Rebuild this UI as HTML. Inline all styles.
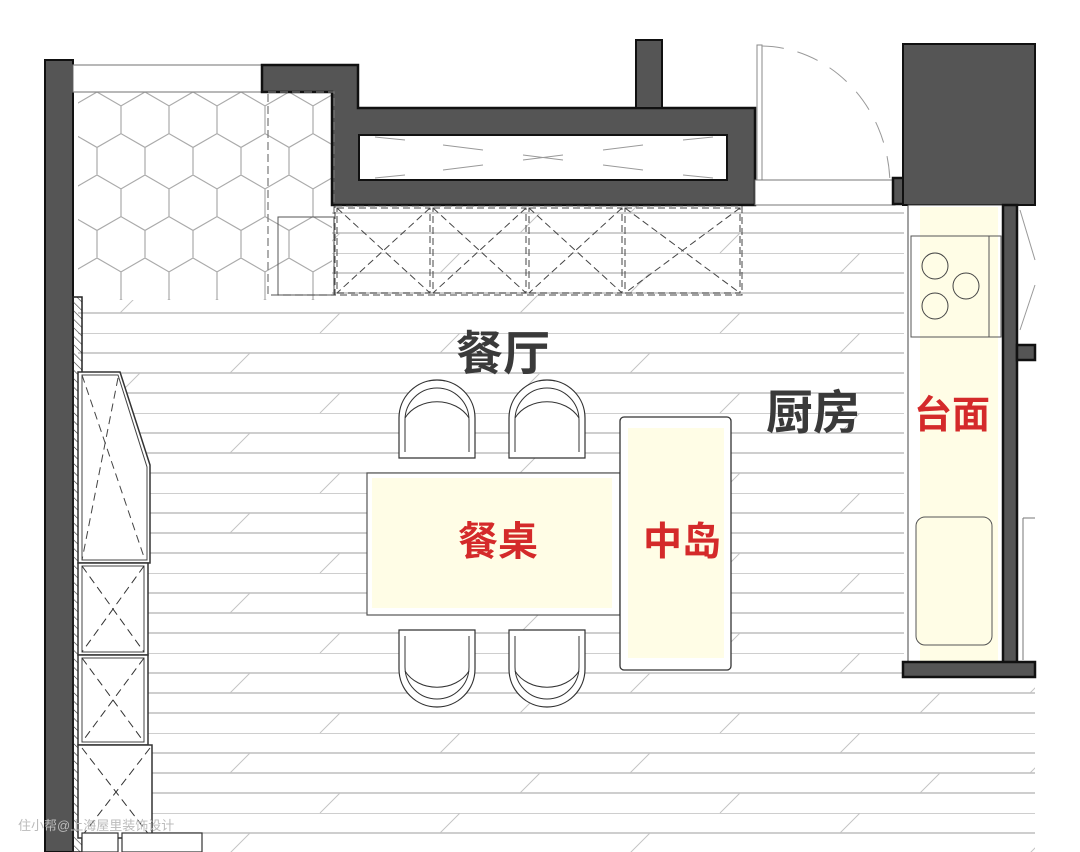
<!DOCTYPE html>
<html><head><meta charset="utf-8"><style>
html,body{margin:0;padding:0;background:#fff}
svg{display:block}
.t{font-family:"Liberation Sans","Noto Sans CJK SC",sans-serif;font-weight:bold}
</style></head><body>
<svg width="1080" height="852" viewBox="0 0 1080 852" xmlns="http://www.w3.org/2000/svg">
<defs>
<pattern id="floor" x="0" y="13" width="400" height="80" patternUnits="userSpaceOnUse">
<line x1="0" y1="0" x2="400" y2="0" stroke="#bdbdbd" stroke-width="1.4"/>
<line x1="0" y1="20" x2="400" y2="20" stroke="#bdbdbd" stroke-width="1.4"/>
<line x1="0" y1="40" x2="400" y2="40" stroke="#bdbdbd" stroke-width="1.4"/>
<line x1="0" y1="60" x2="400" y2="60" stroke="#bdbdbd" stroke-width="1.4"/>
<line x1="40" y1="20" x2="60" y2="0" stroke="#c4c4c4" stroke-width="1"/>
<line x1="230" y1="40" x2="250" y2="20" stroke="#c4c4c4" stroke-width="1"/>
<line x1="120" y1="60" x2="140" y2="40" stroke="#c4c4c4" stroke-width="1"/>
<line x1="320" y1="80" x2="340" y2="60" stroke="#c4c4c4" stroke-width="1"/>
</pattern>
<pattern id="hex" x="73" y="92" width="48" height="83" patternUnits="userSpaceOnUse">
<path d="M24,0 L48,13.9 L48,41.6 L24,55.4 L0,41.6 L0,13.9 Z M24,55.4 L24,83" fill="none" stroke="#aaa" stroke-width="1.2"/>
</pattern>
<pattern id="hatch" width="6" height="6" patternUnits="userSpaceOnUse" patternTransform="rotate(-45)">
<line x1="0" y1="0" x2="0" y2="6" stroke="#333" stroke-width="1.2"/>
</pattern>
</defs>

<rect x="78" y="205" width="826" height="647" fill="url(#floor)"/>
<rect x="904" y="677" width="131" height="175" fill="url(#floor)"/>
<rect x="78" y="92" width="254" height="208" fill="#fff"/>
<rect x="78" y="92" width="254" height="208" fill="url(#hex)"/>

<rect x="45" y="60" width="28" height="792" fill="#555" stroke="#111" stroke-width="2"/>
<rect x="73" y="65" width="189" height="27" fill="#fff" stroke="#888" stroke-width="1.2"/>
<path d="M262,65 H358 V108 H755 V205 H332 V92 H262 Z" fill="#555" stroke="#111" stroke-width="2.5"/>
<rect x="359" y="135" width="368" height="45" fill="#fff" stroke="#111" stroke-width="2"/>
<g stroke="#999" stroke-width="1">
<line x1="375" y1="137" x2="405" y2="140"/><line x1="375" y1="178" x2="405" y2="175"/>
<line x1="443" y1="145" x2="483" y2="150"/><line x1="443" y1="170" x2="483" y2="165"/>
<line x1="523" y1="155" x2="563" y2="160"/><line x1="523" y1="160" x2="563" y2="155"/>
<line x1="603" y1="150" x2="643" y2="145"/><line x1="603" y1="165" x2="643" y2="170"/>
<line x1="683" y1="140" x2="713" y2="137"/><line x1="683" y1="175" x2="713" y2="178"/>
</g>
<rect x="636" y="40" width="26" height="68" fill="#555" stroke="#111" stroke-width="2"/>
<rect x="268" y="92" width="66" height="203" fill="none" stroke="#777" stroke-width="1.2" stroke-dasharray="8,4"/>
<rect x="278" y="217" width="56" height="78" fill="none" stroke="#555" stroke-width="1"/>
<g fill="none" stroke="#444" stroke-width="1" stroke-dasharray="7,4">
<rect x="335" y="206" width="407" height="89"/>
<rect x="337" y="208" width="93" height="85"/><rect x="433" y="208" width="93" height="85"/>
<rect x="529" y="208" width="93" height="85"/><rect x="625" y="208" width="115" height="85"/>
<path d="M337,208 L430,293 M430,208 L337,293 M433,208 L526,293 M526,208 L433,293 M529,208 L622,293 M622,208 L529,293 M625,208 L740,293 M740,208 L625,293"/>
</g>

<rect x="757" y="45" width="5" height="145" fill="#fff" stroke="#888" stroke-width="1"/>
<path d="M762,46 A130,140 0 0 1 890,185" fill="none" stroke="#999" stroke-width="1" stroke-dasharray="22,14"/>
<rect x="755" y="180" width="140" height="25" fill="#fff" stroke="#777" stroke-width="1"/>
<rect x="893" y="178" width="12" height="26" fill="#555" stroke="#111" stroke-width="2.5"/>
<rect x="903" y="44" width="132" height="161" fill="#555" stroke="#111" stroke-width="2"/>

<rect x="908" y="205" width="95" height="458" fill="#fff" stroke="#444" stroke-width="1"/>
<rect x="920" y="207" width="78" height="454" fill="#fffde6"/>
<rect x="911" y="236" width="90" height="101" fill="none" stroke="#555" stroke-width="1"/>
<line x1="989" y1="236" x2="989" y2="337" stroke="#555"/>
<circle cx="935" cy="266" r="13" fill="none" stroke="#444"/>
<circle cx="966" cy="286" r="13" fill="none" stroke="#444"/>
<circle cx="935" cy="306" r="13" fill="none" stroke="#444"/>
<rect x="916" y="517" width="76" height="128" rx="9" fill="#fffde6" stroke="#555" stroke-width="1"/>
<rect x="1003" y="205" width="14" height="460" fill="#555" stroke="#111" stroke-width="2.5"/>
<rect x="1017" y="345" width="18" height="15" fill="#555" stroke="#111" stroke-width="2.5"/>
<rect x="903" y="662" width="132" height="15" fill="#555" stroke="#111" stroke-width="2.5"/>
<line x1="1020" y1="210" x2="1035" y2="260" stroke="#999"/>
<line x1="1020" y1="330" x2="1035" y2="285" stroke="#999"/>
<line x1="1023" y1="518" x2="1035" y2="518" stroke="#777"/>
<line x1="1023" y1="518" x2="1023" y2="660" stroke="#777"/>

<rect x="73" y="297" width="9" height="555" fill="url(#hatch)" stroke="#222" stroke-width="1.5"/>
<path d="M78,372 H120 L150,465 V563 H78 Z" fill="#fff" stroke="#333" stroke-width="1.5"/>
<path d="M82,375 H118 L147,467 V560 H82 Z" fill="none" stroke="#444" stroke-width="1"/>
<path d="M82,375 L145,560 M118,378 L82,560" fill="none" stroke="#444" stroke-dasharray="8,5"/>
<g fill="#fff" stroke="#333" stroke-width="1.5">
<rect x="78" y="563" width="70" height="92"/><rect x="78" y="655" width="70" height="90"/><rect x="78" y="745" width="74" height="93"/>
</g>
<g fill="none" stroke="#444" stroke-width="1">
<rect x="82" y="566" width="62" height="86"/><rect x="82" y="658" width="62" height="84"/>
</g>
<path d="M82,566 L144,652 M144,566 L82,652 M82,658 L144,742 M144,658 L82,742 M82,748 L150,836 M150,748 L82,836" fill="none" stroke="#333" stroke-dasharray="8,5"/>
<rect x="82" y="833" width="36" height="19" fill="#fff" stroke="#333" stroke-width="1.2"/>
<rect x="122" y="833" width="80" height="19" fill="#fff" stroke="#333" stroke-width="1.2"/>

<g fill="#fff" stroke="#333" stroke-width="1.2">
<path d="M399,458 V418 A38,38 0 0 1 475,418 V458 Z"/>
<path d="M509,458 V418 A38,38 0 0 1 585,418 V458 Z"/>
<path d="M399,630 V669 A38,38 0 0 0 475,669 V630 Z"/>
<path d="M509,630 V669 A38,38 0 0 0 585,669 V630 Z"/>
</g>
<g fill="none" stroke="#333" stroke-width="1">
<path d="M405,452 V420 A32,32 0 0 1 469,420 V452"/><path d="M405,418 A36,30 0 0 1 469,418"/>
<path d="M515,452 V420 A32,32 0 0 1 579,420 V452"/><path d="M515,418 A36,30 0 0 1 579,418"/>
<path d="M405,636 V667 A32,32 0 0 0 469,667 V636"/><path d="M405,671 A36,30 0 0 0 469,671"/>
<path d="M515,636 V667 A32,32 0 0 0 579,667 V636"/><path d="M515,671 A36,30 0 0 0 579,671"/>
</g>
<rect x="367" y="473" width="253" height="142" fill="#fff" stroke="#555" stroke-width="1.2"/>
<rect x="372" y="478" width="240" height="130" fill="#fffde6"/>
<rect x="620" y="417" width="111" height="253" rx="4" fill="#fff" stroke="#333" stroke-width="1.3"/>
<rect x="628" y="428" width="96" height="230" fill="#fffde6"/>

<text class="t" x="456" y="370" font-size="47" fill="#3a3a3a">餐厅</text>
<text class="t" x="766" y="429" font-size="47" fill="#3a3a3a">厨房</text>
<text class="t" x="914" y="428" font-size="38" fill="#d42a2a">台面</text>
<text class="t" x="458" y="555" font-size="40" fill="#d42a2a">餐桌</text>
<text class="t" x="643" y="555" font-size="39" fill="#d42a2a">中岛</text>
<text x="18" y="830" font-size="13" fill="#bbb" font-family="Liberation Sans,'Noto Sans CJK SC',sans-serif">住小帮@上海屋里装饰设计</text>
</svg>
</body></html>
